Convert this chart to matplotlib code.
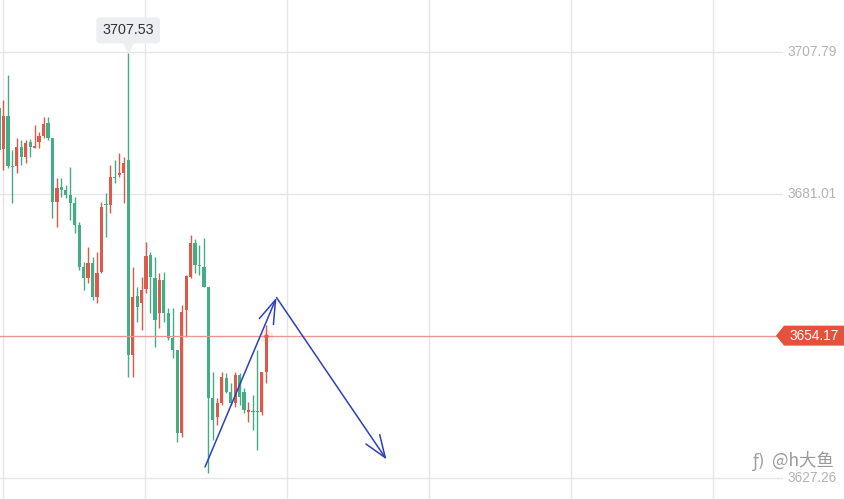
import matplotlib
matplotlib.use("Agg")
import matplotlib.pyplot as plt
from matplotlib.patches import Polygon
from matplotlib.transforms import blended_transform_factory, offset_copy

# candle data (red = up, green = down)
opens = [3697.20, 3689.45, 3695.69, 3686.24, 3686.24, 3689.83, 3687.94, 3690.78, 3689.64, 3690.78,
         3691.91, 3694.37, 3691.53, 3679.43, 3682.27, 3681.70, 3680.76, 3679.24, 3675.09, 3667.15,
         3665.07, 3667.90, 3661.48, 3666.20, 3679.06, 3678.87, 3684.16, 3684.54, 3684.92, 3687.37,
         3650.51, 3661.66, 3660.34, 3662.99, 3669.41, 3665.07, 3658.45, 3664.69, 3658.45, 3653.72,
         3651.46, 3635.77, 3659.02, 3665.26, 3671.68, 3667.52, 3667.15, 3663.37, 3642.38, 3638.79,
         3641.44, 3646.16, 3643.52, 3641.44, 3646.73, 3643.52, 3639.74, 3639.92, 3639.92, 3639.74,
         3647.30]
highs = [3698.72, 3698.72, 3703.44, 3689.26, 3691.53, 3691.15, 3691.15, 3691.34, 3693.99, 3692.67,
         3695.50, 3695.50, 3691.53, 3683.97, 3683.97, 3682.65, 3686.05, 3680.38, 3675.65, 3668.09,
         3670.93, 3669.04, 3669.98, 3679.43, 3681.14, 3686.43, 3687.37, 3688.70, 3687.94, 3707.53,
         3667.15, 3663.37, 3665.26, 3671.87, 3669.98, 3669.04, 3666.01, 3666.20, 3659.40, 3659.40,
         3651.46, 3659.96, 3665.63, 3673.20, 3672.44, 3671.31, 3672.63, 3663.37, 3647.30, 3642.38,
         3647.30, 3647.11, 3645.22, 3647.30, 3647.11, 3644.27, 3641.63, 3642.95, 3651.46, 3647.30,
         3656.18]
lows = [3686.43, 3685.48, 3685.86, 3679.24, 3684.92, 3686.43, 3686.81, 3687.94, 3689.64, 3689.64,
        3691.53, 3691.15, 3676.41, 3674.71, 3680.38, 3680.19, 3676.03, 3673.57, 3666.58, 3662.80,
        3664.12, 3660.91, 3660.34, 3666.01, 3672.82, 3677.35, 3683.03, 3684.16, 3679.24, 3646.35,
        3646.35, 3656.75, 3655.24, 3662.23, 3658.45, 3652.02, 3655.61, 3656.75, 3653.35, 3649.94,
        3634.06, 3635.01, 3653.92, 3665.07, 3666.01, 3665.63, 3663.37, 3628.20, 3634.44, 3637.28,
        3641.06, 3643.33, 3641.06, 3640.68, 3641.06, 3639.55, 3637.85, 3636.33, 3632.55, 3639.17,
        3645.22]
closes = [3689.26, 3695.69, 3686.24, 3686.05, 3689.83, 3687.94, 3690.59, 3689.83, 3690.02, 3691.91,
          3694.18, 3691.53, 3679.43, 3682.08, 3681.70, 3680.76, 3679.24, 3675.09, 3667.15, 3665.07,
          3667.90, 3661.48, 3666.01, 3678.49, 3678.87, 3684.16, 3683.97, 3684.92, 3686.81, 3650.51,
          3661.48, 3659.58, 3662.80, 3669.23, 3665.26, 3657.13, 3664.69, 3658.45, 3653.72, 3651.46,
          3635.77, 3658.64, 3665.44, 3671.68, 3667.52, 3667.34, 3663.37, 3642.38, 3638.22, 3641.44,
          3646.35, 3643.52, 3641.44, 3646.73, 3642.57, 3640.11, 3640.11, 3639.80, 3639.80, 3647.30,
          3654.17]

price_levels = [3707.79, 3681.01, 3654.17, 3627.26]
price_labels = ["3707.79", "3681.01", "3654.17", "3627.26"]
last_price = 3654.17
top_high = 3707.53
top_index = 29

# hand drawn arrows (x = candle index, y = price)
arrow_up = [(46.24, 3629.34), (62.29, 3661.38)]
arrow_down = [(62.29, 3661.38), (86.98, 3630.76)]

red = "#dc5a4b"
green = "#43ad86"
blue = "#2c3fc0"

fig = plt.figure(figsize=(8.45, 4.99), dpi=100)
ax = fig.add_axes([0, 0, 783 / 845, 1])
ax.set_xlim(0.2245, 175.98)
ax.set_ylim(3623.29, 3717.62)
for s in ax.spines.values():
    s.set_visible(False)
ax.set_xticks([0.83 + 31.87 * k for k in range(6)])
ax.set_yticks(price_levels)
ax.tick_params(length=0, labelbottom=False, labelleft=False)
ax.grid(True, color="#e6e6ea", lw=1)
ax.set_axisbelow(True)

for i in range(len(opens)):
    o, h, l, c = opens[i], highs[i], lows[i], closes[i]
    col = red if c >= o else green
    ax.vlines(i, l, h, color=col, lw=1)
    ax.bar(i, max(abs(c - o), 0.15), bottom=min(o, c), width=0.72, color=col, lw=0)

# last price line and marker
ax.axhline(last_price, color="#e6978e", lw=0.9)
ax.scatter([len(opens) - 1], [last_price], s=90, color=red, alpha=0.12, lw=0, zorder=5)
ax.scatter([len(opens) - 1], [last_price], s=10, color=red, lw=0, zorder=6)

# arrows
ax.annotate("", xy=arrow_up[1], xytext=arrow_up[0],
            arrowprops=dict(arrowstyle="->,head_length=1.7,head_width=0.55", color=blue, lw=1.1,
                            shrinkA=0, shrinkB=0, mutation_scale=10))
ax.annotate("", xy=arrow_down[1], xytext=arrow_down[0],
            arrowprops=dict(arrowstyle="->,head_length=1.6,head_width=0.6", color=blue, lw=1.1,
                            shrinkA=0, shrinkB=0, mutation_scale=10))

# top high label
ax.annotate("3707.53", xy=(top_index, top_high), xytext=(0, 23), textcoords="offset pixels",
            ha="center", va="center", fontsize=10.3, color="#333333", family="Liberation Sans",
            bbox=dict(boxstyle="round,pad=0.42,rounding_size=0.2", fc="#eceef1", ec="none"))
tri = offset_copy(ax.transData, fig=fig, x=0, y=6, units="dots")
ax.plot([top_index], [top_high], marker="v", ms=7, color="#eceef1", transform=tri, clip_on=False)

# right price labels
tr = blended_transform_factory(ax.transAxes, ax.transData)
for v, lab in zip(price_levels, price_labels):
    if lab == "3654.17":
        continue
    ax.text(788 / 783, v, lab, transform=tr, ha="left", va="center", fontsize=9.8,
            color="#b3b3b3", family="Liberation Sans", clip_on=False)

ft = blended_transform_factory(fig.transFigure, ax.transData)
d = 10 * 0.18904
box = Polygon([(776 / 845, last_price), (784 / 845, last_price + d), (1, last_price + d),
               (1, last_price - d), (784 / 845, last_price - d)],
              closed=True, fc="#e4513f", ec="none", transform=ft, clip_on=False)
fig.add_artist(box)
fig.text(814 / 845, last_price, "3654.17", transform=ft, ha="center", va="center", fontsize=9.8,
         color="white", family="Liberation Sans")

# watermark
fig.text(752 / 845, 1 - 462 / 499, "ƒ)", fontsize=12, color="#a0a0a0", va="center", ha="left",
         family="DejaVu Sans")
fig.text(772 / 845, 1 - 461 / 499, "@h大鱼", fontsize=12.5, color="#9a9a9a", va="center", ha="left",
         family=["Noto Sans CJK SC", "DejaVu Sans"])

fig.savefig("out.png", dpi=100)
